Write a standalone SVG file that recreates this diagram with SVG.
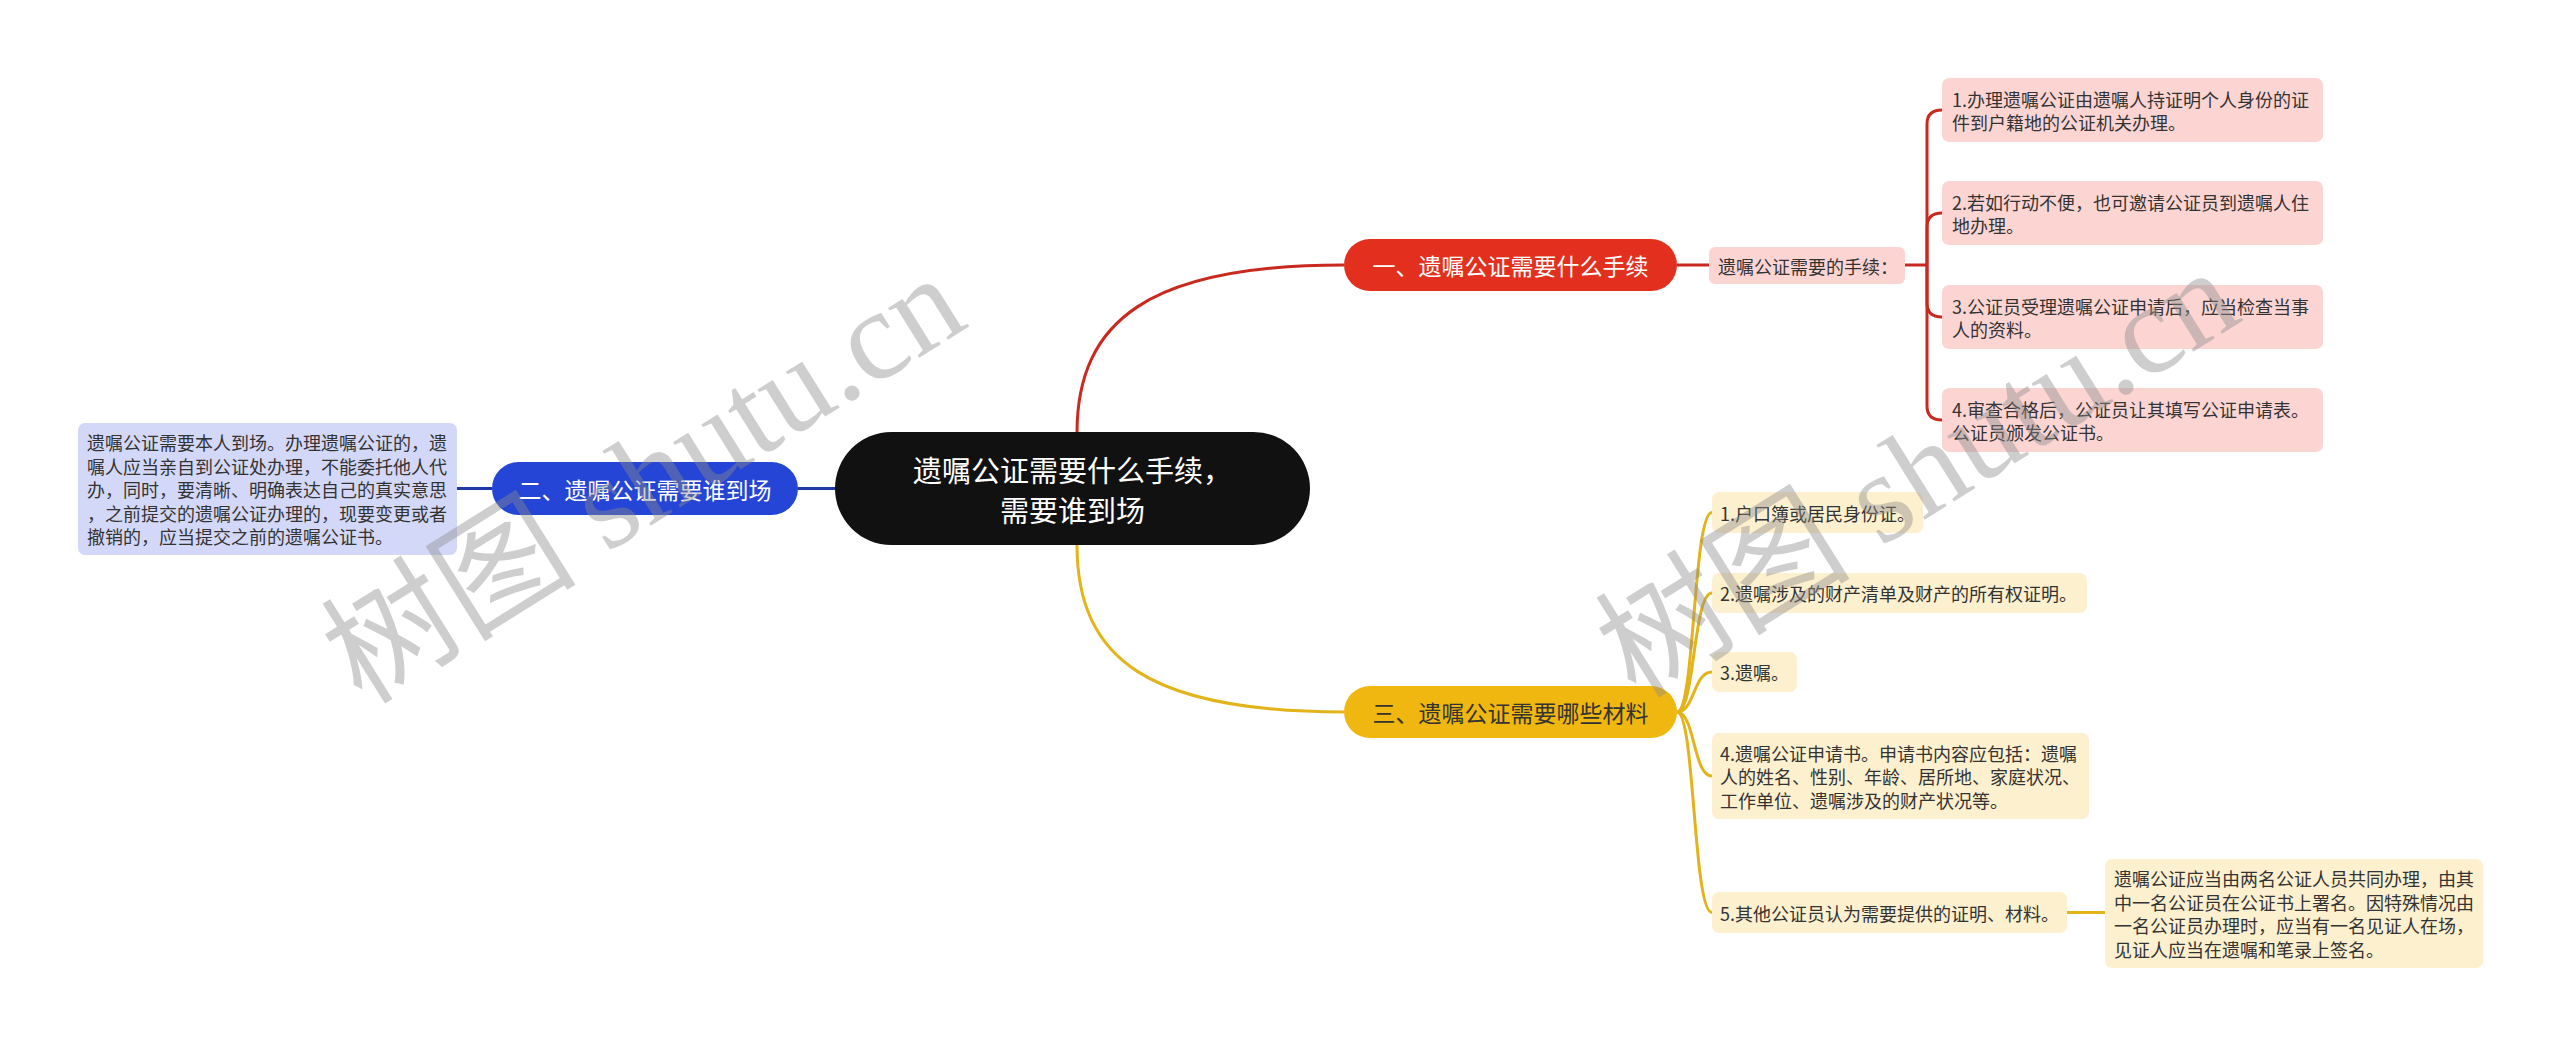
<svg xmlns="http://www.w3.org/2000/svg" width="2560" height="1047" viewBox="0 0 2560 1047">
<style>
text{font-family:"Noto Sans CJK SC","Noto Sans",sans-serif;dominant-baseline:central}
.leaf{font-size:18px;fill:#333}
.red-l{fill:#fcd5d3}
.yel-l{fill:#fdf0cf}
.blu-l{fill:#d3d8f8}
.c-red{fill:none;stroke:#c9291e;stroke-width:3}
.c-yel{fill:none;stroke:#e3b31a;stroke-width:3}
.c-blu{fill:none;stroke:#1f3aa6;stroke-width:3}
.wm{font-family:"Liberation Serif","Noto Sans CJK SC",serif;font-size:128px;fill:#8c8c8c;opacity:0.42;dominant-baseline:auto}
</style>
<rect width="2560" height="1047" fill="#ffffff"/>
<g id="connectors">
<path class="c-red" d="M1077,433 C1077,320 1150,265 1344,265"/>
<path class="c-red" d="M1677,265 H1709"/>
<path class="c-red" d="M1905,265 H1927"/>
<path class="c-red" d="M1927,265 V124 Q1927,110 1942,110"/>
<path class="c-red" d="M1927,265 V227 Q1927,213 1942,213"/>
<path class="c-red" d="M1927,265 V303 Q1927,317 1942,317"/>
<path class="c-red" d="M1927,265 V406 Q1927,420 1942,420"/>
<path class="c-blu" d="M835,488.5 H798"/>
<path class="c-blu" d="M492,488.5 H457"/>
<path class="c-yel" d="M1077,545 C1077,660 1150,712 1344,712"/>
<path class="c-yel" d="M1677,712 C1695,712 1693,512.5 1712,512.5"/>
<path class="c-yel" d="M1677,712 C1695,712 1693,593 1712,593"/>
<path class="c-yel" d="M1677,712 C1695,712 1693,672 1712,672"/>
<path class="c-yel" d="M1677,712 C1695,712 1693,776 1712,776"/>
<path class="c-yel" d="M1677,712 C1695,712 1693,912.5 1712,912.5"/>
<path class="c-yel" d="M2067,912.5 H2105"/>
</g>
<g id="root">
<rect x="835" y="432" width="475" height="113" rx="56.5" fill="#111111"/>
<text x="1072.5" y="469" font-size="29" fill="#ffffff" text-anchor="middle">遗嘱公证需要什么手续，</text>
<text x="1072.5" y="509" font-size="29" fill="#ffffff" text-anchor="middle">需要谁到场</text>
</g>
<g id="n1">
<rect x="1344" y="239" width="333" height="52" rx="26" fill="#e3301e"/>
<text x="1510.5" y="265" font-size="23" fill="#ffffff" text-anchor="middle">一、遗嘱公证需要什么手续</text>
</g>
<g id="n1-0">
<rect class="red-l" x="1709" y="247" width="196" height="37" rx="6"/>
<text class="leaf" x="1718" y="265.5">遗嘱公证需要的手续：</text>
</g>
<g id="n1-1">
<rect class="red-l" x="1942" y="78" width="381" height="64" rx="7"/>
<text class="leaf" x="1952" y="98.5">1.办理遗嘱公证由遗嘱人持证明个人身份的证</text>
<text class="leaf" x="1952" y="122">件到户籍地的公证机关办理。</text>
</g>
<g id="n1-2">
<rect class="red-l" x="1942" y="181" width="381" height="64" rx="7"/>
<text class="leaf" x="1952" y="201.5">2.若如行动不便，也可邀请公证员到遗嘱人住</text>
<text class="leaf" x="1952" y="225">地办理。</text>
</g>
<g id="n1-3">
<rect class="red-l" x="1942" y="285" width="381" height="64" rx="7"/>
<text class="leaf" x="1952" y="305.5">3.公证员受理遗嘱公证申请后，应当检查当事</text>
<text class="leaf" x="1952" y="329">人的资料。</text>
</g>
<g id="n1-4">
<rect class="red-l" x="1942" y="388" width="381" height="64" rx="7"/>
<text class="leaf" x="1952" y="408.5">4.审查合格后，公证员让其填写公证申请表。</text>
<text class="leaf" x="1952" y="432">公证员颁发公证书。</text>
</g>
<g id="n2">
<rect x="492" y="462" width="306" height="53" rx="26.5" fill="#2445d5"/>
<text x="645" y="488.5" font-size="23" fill="#ffffff" text-anchor="middle">二、遗嘱公证需要谁到场</text>
</g>
<g id="n2-1">
<rect class="blu-l" x="78" y="423" width="379" height="132" rx="7"/>
<text class="leaf" x="87" y="442">遗嘱公证需要本人到场。办理遗嘱公证的，遗</text>
<text class="leaf" x="87" y="465.5">嘱人应当亲自到公证处办理，不能委托他人代</text>
<text class="leaf" x="87" y="489">办，同时，要清晰、明确表达自己的真实意思</text>
<text class="leaf" x="87" y="512.5">，之前提交的遗嘱公证办理的，现要变更或者</text>
<text class="leaf" x="87" y="536">撤销的，应当提交之前的遗嘱公证书。</text>
</g>
<g id="n3">
<rect x="1344" y="686" width="333" height="52" rx="26" fill="#efb710"/>
<text x="1510.5" y="712" font-size="23" fill="#333333" text-anchor="middle">三、遗嘱公证需要哪些材料</text>
</g>
<g id="n3-1">
<rect class="yel-l" x="1712" y="492" width="211" height="41" rx="7"/>
<text class="leaf" x="1720" y="512.5">1.户口簿或居民身份证。</text>
</g>
<g id="n3-2">
<rect class="yel-l" x="1712" y="573" width="375" height="40" rx="7"/>
<text class="leaf" x="1720" y="593">2.遗嘱涉及的财产清单及财产的所有权证明。</text>
</g>
<g id="n3-3">
<rect class="yel-l" x="1712" y="652" width="85" height="40" rx="7"/>
<text class="leaf" x="1720" y="672">3.遗嘱。</text>
</g>
<g id="n3-4">
<rect class="yel-l" x="1712" y="733" width="377" height="86" rx="7"/>
<text class="leaf" x="1720" y="752.5">4.遗嘱公证申请书。申请书内容应包括：遗嘱</text>
<text class="leaf" x="1720" y="776">人的姓名、性别、年龄、居所地、家庭状况、</text>
<text class="leaf" x="1720" y="799.5">工作单位、遗嘱涉及的财产状况等。</text>
</g>
<g id="n3-5">
<rect class="yel-l" x="1712" y="892" width="355" height="41" rx="7"/>
<text class="leaf" x="1720" y="912.5">5.其他公证员认为需要提供的证明、材料。</text>
</g>
<g id="n3-5-1">
<rect class="yel-l" x="2105" y="859" width="378" height="109" rx="7"/>
<text class="leaf" x="2114" y="878">遗嘱公证应当由两名公证人员共同办理，由其</text>
<text class="leaf" x="2114" y="901.5">中一名公证员在公证书上署名。因特殊情况由</text>
<text class="leaf" x="2114" y="925">一名公证员办理时，应当有一名见证人在场，</text>
<text class="leaf" x="2114" y="948.5">见证人应当在遗嘱和笔录上签名。</text>
</g>
<g id="watermarks">
<text class="wm" x="362" y="706" transform="rotate(-32 362 706)">树图 shutu.cn</text>
<text class="wm" x="1636" y="700" transform="rotate(-32 1636 700)">树图 shutu.cn</text>
</g>
</svg>
